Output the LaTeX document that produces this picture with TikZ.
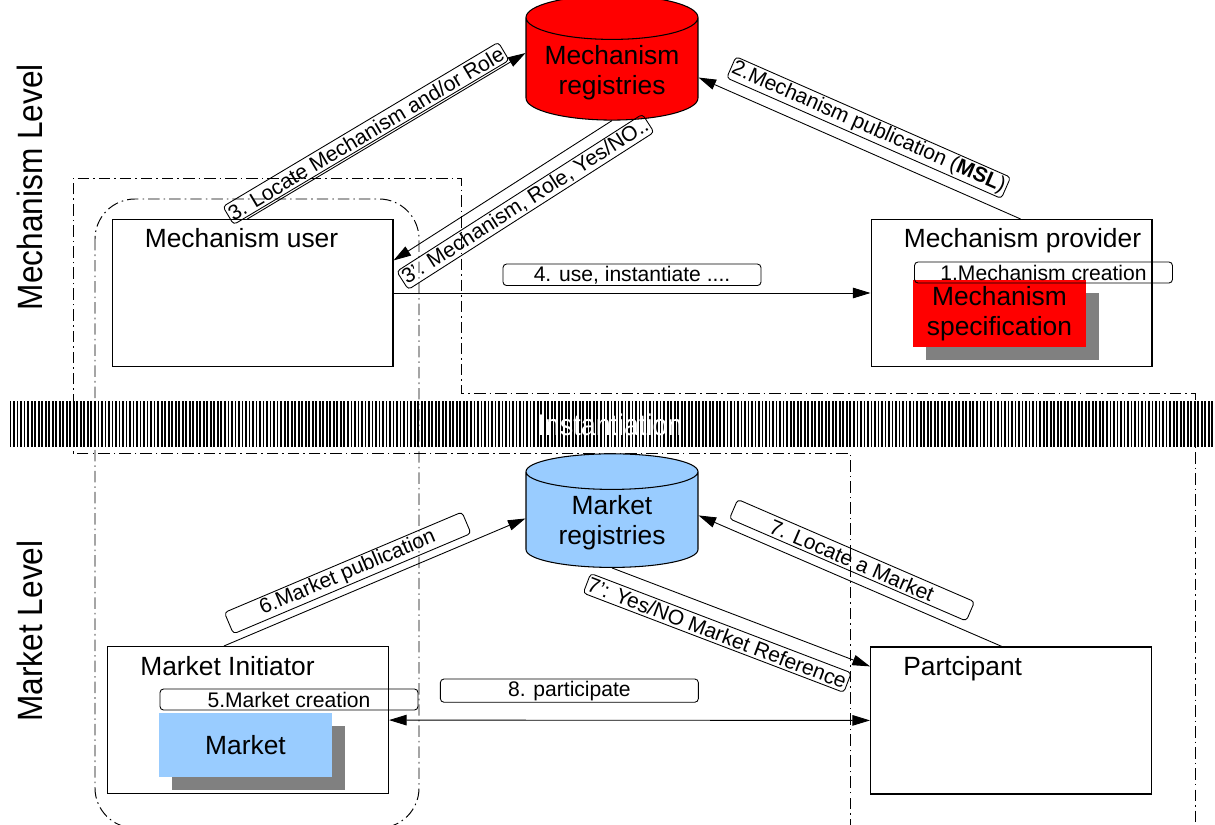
\documentclass[tikz,border=0pt]{standalone}
\usepackage{fontspec}
\setmainfont{Liberation Sans}
\newfontfamily\narrowfont[FakeStretch=0.9]{Liberation Sans}
\usetikzlibrary{arrows.meta,shapes.geometric,shadows,patterns.meta}
\definecolor{regblue}{HTML}{99CCFF}
\definecolor{shadowgray}{HTML}{808080}
\newcommand\boxfont{\fontsize{15}{17}\selectfont}
\newcommand\msgfont{\fontsize{12}{14}\selectfont}
\newcommand\levelfont{\narrowfont\fontsize{20}{22}\selectfont}
\newcommand\bandfont{\narrowfont\fontsize{17}{19}\selectfont}

\begin{document}
\begin{tikzpicture}[
 x=.02cm,y=-.02cm,
 line/.style={line width=.5pt},
 arr/.style={line,-{Triangle[length=10pt,width=6pt]}},
 arrs/.style={line,{Triangle[length=10pt,width=6pt]}-{Triangle[length=10pt,width=6pt]}},
 lane/.style={line width=.55pt,dash pattern=on 6.5pt off 2.3pt on .9pt off 2.3pt},
 role/.style={draw,line width=.6pt,minimum width=5.62cm,minimum height=2.94cm},
 title/.style={inner sep=0pt,anchor=base west,font=\boxfont},
 registry/.style={cylinder,shape border rotate=90,draw,line width=.6pt,aspect=.3,
   minimum width=3.44cm,minimum height=2.1cm,align=center,font=\boxfont},
 artefact/.style={minimum width=3.46cm,align=center,font=\boxfont,
   drop shadow={shadow xshift=.26cm,shadow yshift=-.26cm,fill=shadowgray,opacity=1}},
 msg/.style={draw,rounded corners=2pt,line width=.5pt,minimum width=5.16cm,
   minimum height=.42cm,inner sep=1pt,font=\msgfont},
 level/.style={rotate=90,font=\levelfont}]
 \useasboundingbox (0,0) rectangle (1215,825);
 % instantiation band and swim lanes
 \fill[pattern={Lines[angle=90,distance=2pt,line width=1pt]}] (8,401) rectangle (1215,447);
 \draw[lane] (850,830) -- (850,453) -- (73,453) -- (73,178) -- (461,178)
             -- (461,393) -- (1195,393) -- (1195,830);
 \draw[lane,rounded corners=.8cm] (95,199) rectangle (419,828);
 \node[text=white,font=\bandfont] (inst) at (610,425) {Instantiation};
 \node[level] (mechlevel) at (30,187) {Mechanism Level};
 \node[level] (marketlevel) at (30,631) {Market Level};
 % mechanism level
 \node[registry,fill=red] (mreg) at (612,73) {Mechanism\\registries};
 \node[role] (user) at (252.5,293) {};
 \node[role] (prov) at (1011.5,293) {};
 \node[title] (usertitle) at ([xshift=.66cm,yshift=-.58cm]user.north west) {Mechanism user};
 \node[title] (provtitle) at ([xshift=.66cm,yshift=-.57cm]prov.north west) {Mechanism provider};
 \node[artefact,fill=red,minimum height=1.22cm] (mspec) at (999.5,313.5) {Mechanism\\specification};
 \node[msg] (mcreate) at (1043.5,272.5) {1.Mechanism creation};
 \draw[arr] (prov.83) -- node[msg,sloped,above=6pt,pos=.5] (mpub) {2.Mechanism publication (\textbf{MSL})} (mreg.-3);
 \draw[arr] (user.94) -- node[msg,sloped,above=1pt,pos=.45] (mlocate) {3. Locate Mechanism and/or Role} (mreg.167);
 \draw[arr] (mreg.south) -- node[msg,sloped,below=6pt,pos=.45] (manswer) {3'. Mechanism, Role, Yes/NO..} (user.13);
 \draw[arr] (user) -- node[msg,above=4pt] (muse) {4. use, instantiate ....} (prov);
 % market level
 \node[registry,fill=regblue] (mkreg) at (612,523) {Market\\registries};
 \node[role] (init) at (248,720) {};
 \node[role] (part) at (1011,720.5) {};
 \node[title] (inittitle) at ([xshift=.66cm,yshift=-.6cm]init.north west) {Market Initiator};
 \node[title] (parttitle) at ([xshift=.66cm,yshift=-.58cm]part.north west) {Partcipant};
 \node[artefact,fill=regblue,minimum height=1.28cm] (market) at (245.5,745) {Market};
 \node[msg] (mkcreate) at (289,699.5) {5.Market creation};
 \draw[arr] (init.108) -- node[msg,sloped,above=4pt,pos=.435] (mkpub) {6.Market publication} (mkreg.177);
 \draw[arr] (part.97) -- node[msg,sloped,above=5pt,pos=.52] (mklocate) {7. Locate a Market} (mkreg.5);
 \draw[arr] (mkreg.south) -- node[msg,sloped,below=7pt,pos=.44] (mkanswer) {7': Yes/NO Market Reference} (part.159);
 \draw[arrs] (init) -- node[msg,above=10pt,pos=.375] (mkpart) {8. participate} (part);
\end{tikzpicture}
\end{document}
